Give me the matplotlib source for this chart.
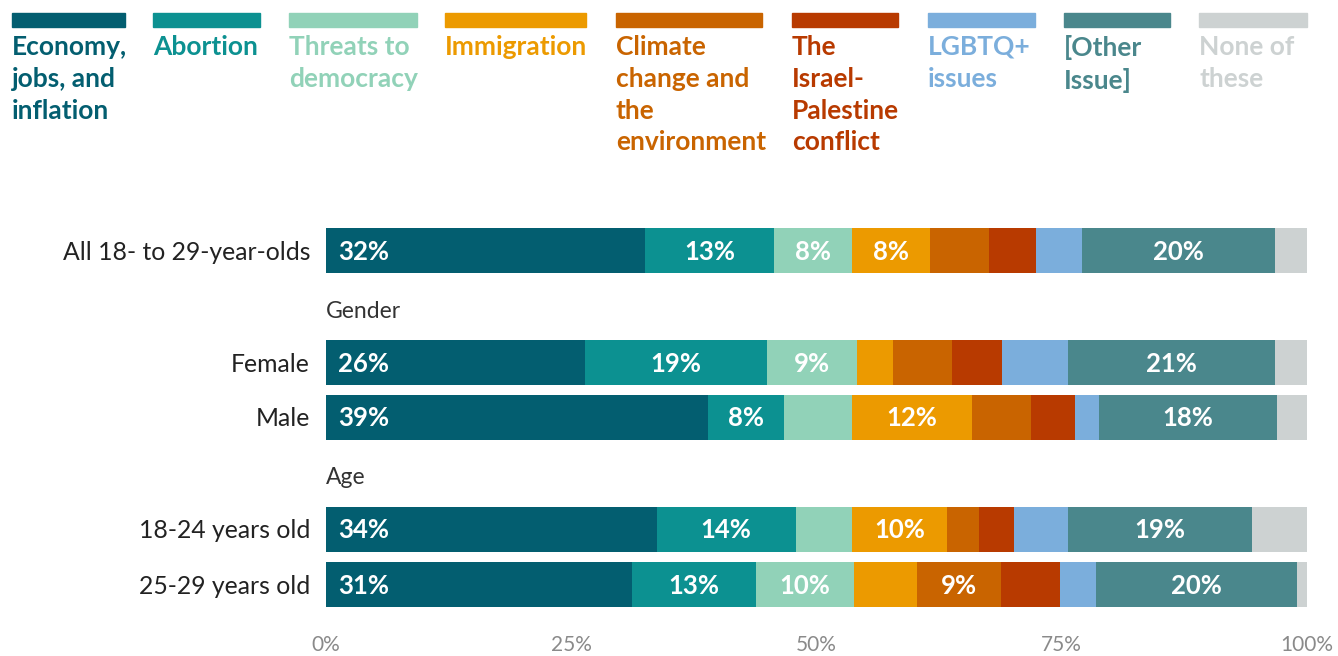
import matplotlib.pyplot as plt
from matplotlib.patches import Rectangle

plt.rcParams['font.family'] = ['Lato', 'DejaVu Sans']

# data (percent of each group)
issues = ["Economy,\njobs, and\ninflation", "Abortion", "Threats to\ndemocracy", "Immigration",
          "Climate\nchange and\nthe\nenvironment", "The\nIsrael-\nPalestine\nconflict",
          "LGBTQ+\nissues", "[Other\nIssue]", "None of\nthese"]
colors = ["#035E70", "#0C9191", "#91D2B8", "#EC9A00", "#C96400", "#B83A00",
          "#7BAEDC", "#4A878C", "#CDD2D2"]
text_colors = ["#035E70", "#0C9191", "#91D2B8", "#EC9A00", "#C96400", "#B83A00",
               "#7BAEDC", "#4A878C", "#CDD2D2"]

groups = ["All 18- to 29-year-olds", "Female", "Male", "18-24 years old", "25-29 years old"]
economy = [32.5, 26.4, 38.9, 33.7, 31.2]
abortion = [13.2, 18.6, 7.8, 14.2, 12.6]
threats = [7.9, 9.1, 6.9, 5.7, 10.0]
immigration = [8.0, 3.7, 12.3, 9.7, 6.4]
climate = [6.0, 6.0, 6.0, 3.3, 8.6]
israel = [4.8, 5.1, 4.5, 3.5, 6.0]
lgbtq = [4.7, 6.7, 2.4, 5.5, 3.7]
other = [19.6, 21.1, 18.1, 18.8, 20.5]
none_ = [3.3, 3.4, 3.1, 5.6, 1.0]
series = [economy, abortion, threats, immigration, climate, israel, lgbtq, other, none_]

W, H = 1338, 656
fig = plt.figure(figsize=(W / 100, H / 100), dpi=100)
ax = fig.add_axes([326 / W, 1 - 620 / H, 981 / W, 420 / H])

ypos = [250, 362, 417, 529, 584]
left = [0.0] * len(groups)
for k, (vals, col) in enumerate(zip(series, colors)):
    ax.barh(ypos, vals, left=left, height=45, color=col, linewidth=0)
    for i, v in enumerate(vals):
        if v >= 7.5 and k < 8:
            if k == 0:
                ax.text(left[i] + 1.2, ypos[i] + 1.5, f"{round(v)}%", ha="left", va="center",
                        color="white", fontsize=18.5, fontweight="bold")
            else:
                ax.text(left[i] + v / 2, ypos[i] + 1.5, f"{round(v)}%", ha="center", va="center",
                        color="white", fontsize=18.5, fontweight="bold")
    left = [l + v for l, v in zip(left, vals)]

ax.set_xlim(0, 100)
ax.set_ylim(620, 200)
ax.set_yticks(ypos)
ax.set_yticklabels(groups, fontsize=17.8, color="#222222")
ax.set_xticks([0, 25, 50, 75, 100])
ax.set_xticklabels(["0%", "25%", "50%", "75%", "100%"], fontsize=15, color="#8a8a8a")
ax.tick_params(axis="both", length=0)
ax.tick_params(axis="y", pad=11.5)
ax.tick_params(axis="x", pad=11)
for s in ax.spines.values():
    s.set_visible(False)

ax.text(0, 311, "Gender", ha="left", va="center", fontsize=16.5, color="#333333")
ax.text(0, 478, "Age", ha="left", va="center", fontsize=16.5, color="#333333")

# legend across the top
leg_x = [12, 153, 289, 445, 616, 792, 928, 1064, 1199]
leg_w = [113, 107, 128, 141, 146, 106, 107, 106, 108]
for x0, w, lab, col, tc in zip(leg_x, leg_w, issues, colors, text_colors):
    fig.patches.append(Rectangle((x0 / W, 1 - 27 / H), w / W, 14 / H,
                                 transform=fig.transFigure, color=col))
    fig.text(x0 / W, 1 - 35 / H, lab, ha="left", va="top", fontsize=19,
             fontweight="bold", color=tc, linespacing=1.39)

fig.savefig("out.png", dpi=100)
